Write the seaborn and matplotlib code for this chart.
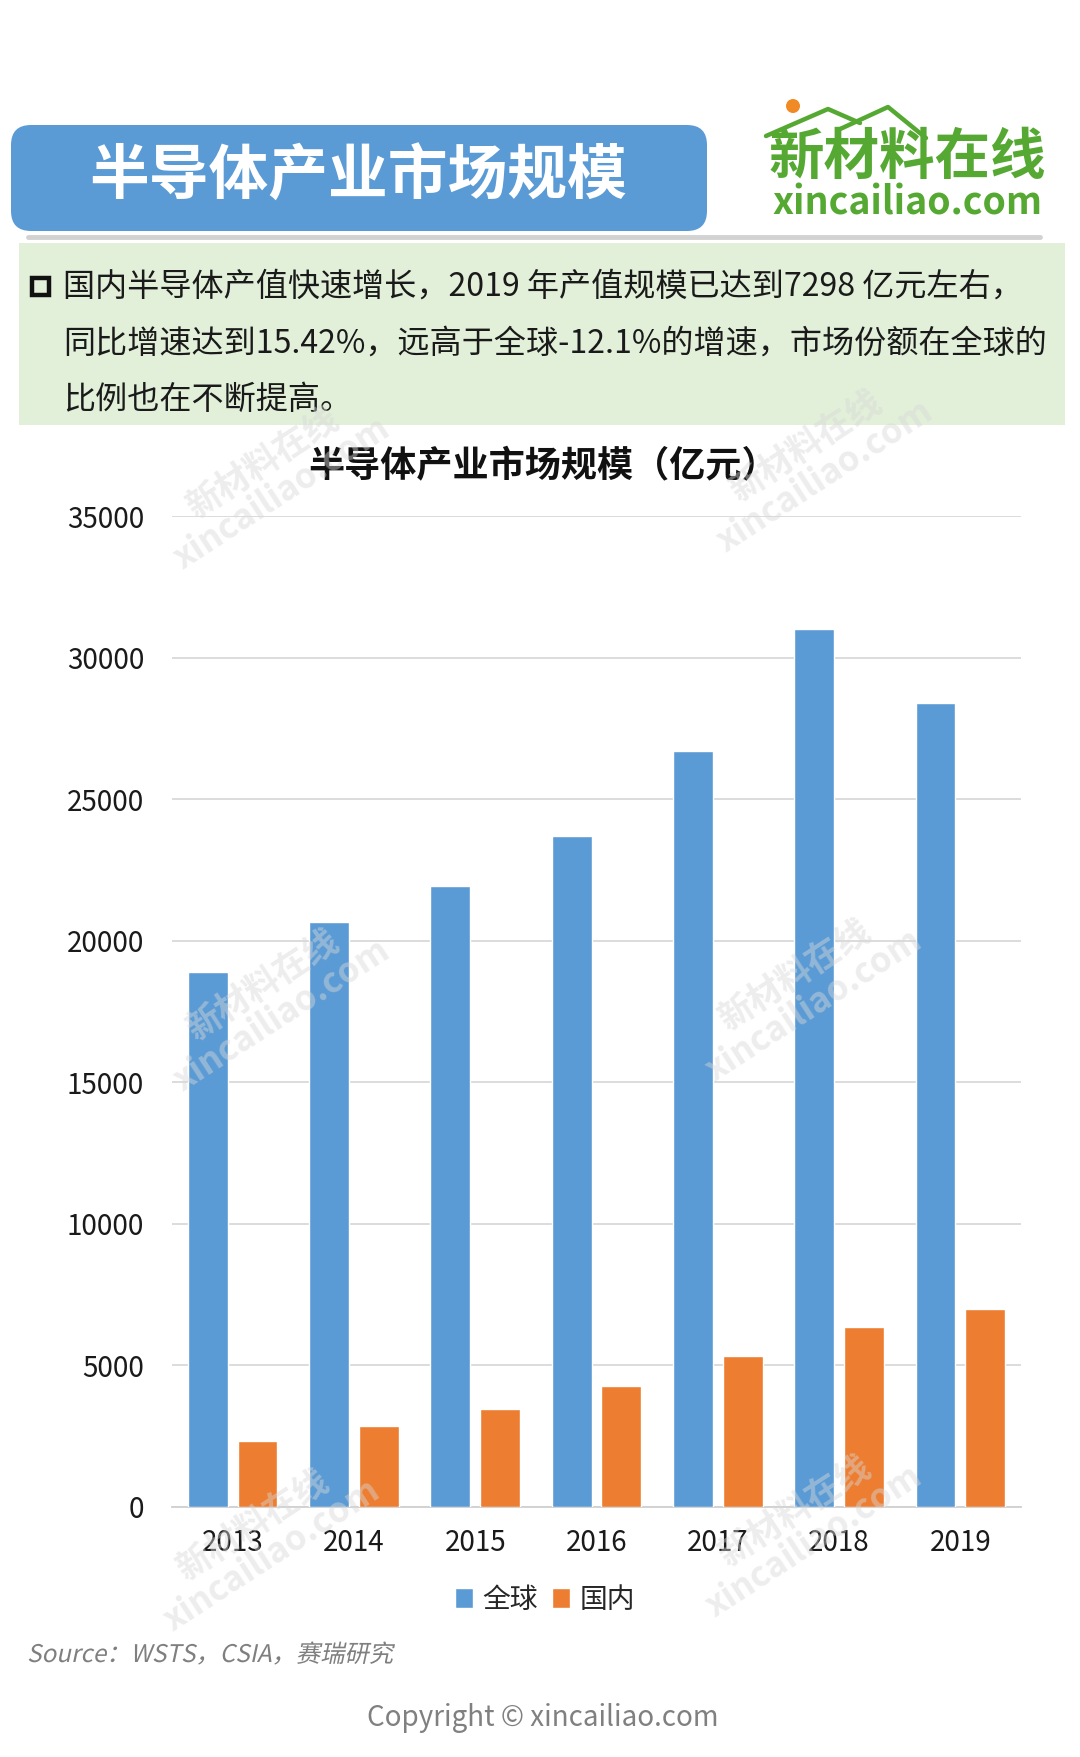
import matplotlib
matplotlib.use("Agg")
import matplotlib.pyplot as plt
from matplotlib.patches import FancyBboxPatch, Rectangle, Circle, PathPatch
from matplotlib.lines import Line2D
from matplotlib.textpath import TextPath
from matplotlib.font_manager import FontProperties
import matplotlib.transforms as mtransforms
import seaborn as sns
import pandas as pd

# ---------------- data ----------------
years = ["2013", "2014", "2015", "2016", "2017", "2018", "2019"]
global_vals = [18900, 20670, 21930, 23700, 26690, 31000, 28410]
domestic_vals = [2330, 2860, 3450, 4290, 5330, 6340, 7010]
series_names = ["全球", "国内"]
yticks = [0, 5000, 10000, 15000, 20000, 25000, 30000, 35000]

header_title = "半导体产业市场规模"
chart_title = "半导体产业市场规模（亿元）"
body_lines = [
    "国内半导体产值快速增长，2019 年产值规模已达到7298 亿元左右，",
    "同比增速达到15.42%，远高于全球-12.1%的增速，市场份额在全球的",
    "比例也在不断提高。",
]
source_text = "Source：WSTS，CSIA，赛瑞研究"
copyright_text = "Copyright © xincailiao.com"

BLUE = "#5b9bd5"
ORANGE = "#ed7d31"
LOGO_GREEN = "#55a932"

sns.set_theme(style="white")
plt.rcParams["font.family"] = ["Noto Sans CJK SC", "DejaVu Sans"]

W, H = 1080, 1757
fig = plt.figure(figsize=(W / 100, H / 100), dpi=100)
fig.patch.set_facecolor("white")
T = fig.dpi_scale_trans


def P(x, y):
    """pixel (top-left origin) -> inches (bottom-left origin)"""
    return x / 100, (H - y) / 100


# ---------------- header ----------------
x0, y0 = P(11, 231)
fig.patches.append(FancyBboxPatch((x0, y0), (707 - 11) / 100, (231 - 125) / 100,
                                  boxstyle="round,pad=0,rounding_size=0.2",
                                  transform=T, facecolor=BLUE, edgecolor="none", zorder=1))
fig.text(*P(358, 178), header_title, transform=T, color="white", fontsize=43,
         fontweight="bold", ha="center", va="center", zorder=3)

# shadow line
fig.lines.append(Line2D([28 / 100, 1040 / 100], [(H - 237) / 100] * 2, transform=T,
                        color="#d2d2d2", lw=3.5, zorder=1))

# logo
fig.lines.append(Line2D([766 / 100, 828 / 100, 860 / 100],
                        [(H - 136) / 100, (H - 109) / 100, (H - 123) / 100],
                        transform=T, color=LOGO_GREEN, lw=3.2, zorder=2))
fig.lines.append(Line2D([838 / 100, 888 / 100, 926 / 100],
                        [(H - 130) / 100, (H - 107) / 100, (H - 138) / 100],
                        transform=T, color=LOGO_GREEN, lw=3.2, zorder=2))
fig.patches.append(Circle(P(793, 106), 0.07, transform=T, facecolor="#f08a24",
                          edgecolor="none", zorder=3))
fig.text(*P(907, 158), "新材料在线", transform=T, color=LOGO_GREEN, fontsize=40,
         fontweight="bold", ha="center", va="center")
fig.text(*P(907, 203), "xincailiao.com", transform=T, color=LOGO_GREEN, fontsize=27,
         fontweight="bold", ha="center", va="center")

# green text box
gx, gy = P(19, 425)
fig.patches.append(Rectangle((gx, gy), (1065 - 19) / 100, (425 - 243) / 100, transform=T,
                             facecolor="#e2efd9", edgecolor="none", zorder=1))
bx, by = P(32, 295)
fig.patches.append(Rectangle((bx, by), 0.17, 0.17, transform=T, facecolor="none",
                             edgecolor="#111111", lw=3.2, zorder=3))
for line, yc in zip(body_lines, [287, 344, 400]):
    fig.text(*P(63, yc), line, transform=T, color="#1a1a1a", fontsize=23.1,
             ha="left", va="center", zorder=3)

# ---------------- chart ----------------
df = pd.DataFrame({
    "year": years * 2,
    "series": [series_names[0]] * len(years) + [series_names[1]] * len(years),
    "value": global_vals + domestic_vals,
})

ax = fig.add_axes([172 / W, 1 - 1507 / H, (1021 - 172) / W, (1507 - 516) / H])
sns.barplot(data=df, x="year", y="value", hue="series", hue_order=series_names,
            palette=[BLUE, ORANGE], width=0.82, gap=0.2, saturation=1,
            ax=ax, legend=True, zorder=3)
ax.set_ylim(0, 35000)
ax.set_yticks(yticks)
ax.set_yticklabels([str(v) for v in yticks])
ax.set_xlim(-0.5, len(years) - 0.5)
ax.grid(axis="y", color="#d9d9d9", lw=1.3, zorder=0)
ax.grid(axis="x", visible=False)
ax.set_axisbelow(True)
for s in ["top", "right", "left"]:
    ax.spines[s].set_visible(False)
ax.spines["bottom"].set_color("#d0d0d0")
ax.spines["bottom"].set_linewidth(1.3)
ax.tick_params(axis="y", length=0, pad=20, labelsize=20, labelcolor="#1a1a1a")
ax.tick_params(axis="x", length=0, pad=15, labelsize=20, labelcolor="#1a1a1a")
ax.set_xlabel("")
ax.set_ylabel("")
ax.set_facecolor("white")

handles, labels = ax.get_legend_handles_labels()
ax.get_legend().remove()
fig.legend(handles, labels, loc="center", bbox_to_anchor=(545 / W, 1 - 1600 / H),
           ncol=2, frameon=False, fontsize=20, handlelength=0.65, handleheight=0.75,
           handletextpad=0.35, columnspacing=0.5)

fig.text(543 / W, 1 - 467 / H, chart_title, fontsize=26, fontweight="bold",
         color="#111111", ha="center", va="center")

# italic (sheared) source line
src_path = TextPath((0, 0), source_text, size=0.243,
                    prop=FontProperties(family="Noto Sans CJK SC"))
src_tr = mtransforms.Affine2D().skew_deg(12, 0).translate(27 / 100, (H - 1662) / 100) + T
fig.patches.append(PathPatch(src_path, transform=src_tr, facecolor="#7f7f7f",
                             edgecolor="none", lw=0, zorder=3))

fig.text(543 / W, 1 - 1718 / H, copyright_text, fontsize=20, color="#808080",
         ha="center", va="center")

# watermarks
for (cx, cy) in [(272, 478), (815, 461), (272, 1000), (804, 990), (262, 1540), (804, 1526)]:
    fig.text(cx / W, 1 - cy / H, "新材料在线\nxincailiao.com", fontsize=25,
             fontweight="bold", color="#d8d8d8", alpha=0.45, rotation=33,
             ha="center", va="center", linespacing=1.0, zorder=10)

fig.savefig("out.png", dpi=100, facecolor="white")
